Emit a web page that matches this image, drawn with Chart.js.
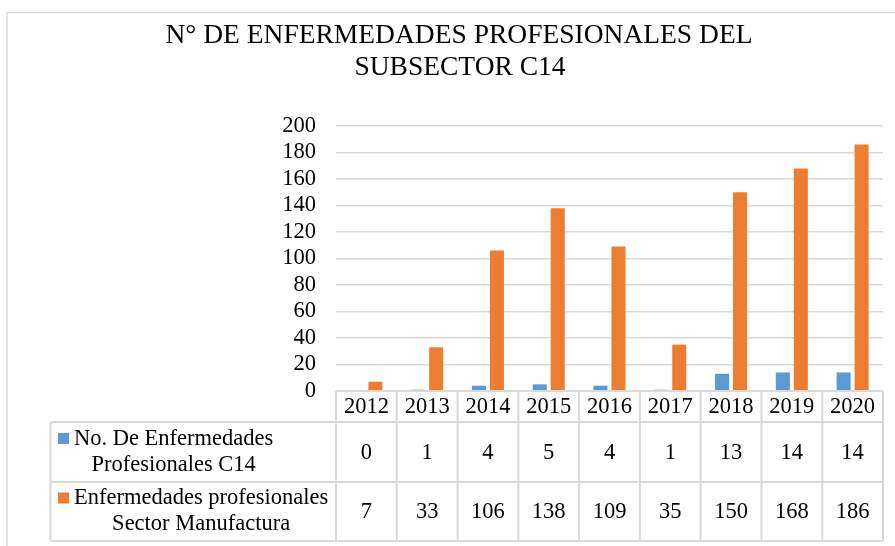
<!DOCTYPE html>
<html>
<head>
<meta charset="utf-8">
<script src="https://cdn.jsdelivr.net/npm/chart.js@4"></script>
<style>
  html, body { margin: 0; padding: 0; background: #fff; }
  #wrap { width: 895px; height: 546px; position: relative; }
</style>
</head>
<body>
<div id="wrap"><canvas id="c" width="895" height="546"></canvas></div>
<script>
const categories = ['2012','2013','2014','2015','2016','2017','2018','2019','2020'];
const seriesNames = [
  ['No. De Enfermedades', 'Profesionales C14'],
  ['Enfermedades profesionales', 'Sector Manufactura']
];
const c14Values = [0, 1, 4, 5, 4, 1, 13, 14, 14];
const manufacturaValues = [7, 33, 106, 138, 109, 35, 150, 168, 186];
const titleLines = ['N° DE ENFERMEDADES PROFESIONALES DEL', 'SUBSECTOR C14'];

const BLUE = '#5B9BD5';
const ORANGE = '#ED7D31';
const GRID = '#D9D9D9';
const FONT = "'Liberation Serif', 'Times New Roman', serif";
const TXT = 22.5;

const frameAndTable = {
  id: 'frameAndTable',
  beforeDraw(chart) {
    const ctx = chart.ctx;
    ctx.save();
    ctx.strokeStyle = GRID;
    ctx.lineWidth = 1.5;
    ctx.beginPath();
    ctx.moveTo(7, 546);
    ctx.lineTo(7, 12.5);
    ctx.lineTo(895, 12.5);
    ctx.stroke();
    // title
    ctx.fillStyle = '#000';
    ctx.font = '27.5px ' + FONT;
    ctx.textAlign = 'center';
    ctx.textBaseline = 'middle';
    ctx.fillText(titleLines[0], 459, 36);
    ctx.fillText(titleLines[1], 460, 68);
    ctx.restore();
  },
  afterDraw(chart) {
    const ctx = chart.ctx;
    const area = chart.chartArea;
    const xs = chart.scales.x;
    const n = categories.length;
    const cw = (area.right - area.left) / n;
    const tableLeft = 50.5;
    const yTop = area.bottom;
    const yH = yTop + 31;
    const yR1 = yH + 60;
    const yR2 = yR1 + 59;
    ctx.save();
    ctx.strokeStyle = GRID;
    ctx.lineWidth = 2;
    ctx.beginPath();
    ctx.moveTo(area.left, yTop); ctx.lineTo(area.right, yTop);
    [yH, yR1, yR2].forEach(y => { ctx.moveTo(tableLeft, y); ctx.lineTo(area.right, y); });
    for (let i = 0; i <= n; i++) {
      const x = area.left + i * cw;
      ctx.moveTo(x, yTop); ctx.lineTo(x, yR2);
    }
    ctx.moveTo(tableLeft, yH); ctx.lineTo(tableLeft, yR2);
    ctx.stroke();

    ctx.fillStyle = '#000';
    ctx.font = TXT + 'px ' + FONT;
    ctx.textAlign = 'center';
    ctx.textBaseline = 'middle';
    const rows = [c14Values, manufacturaValues];
    categories.forEach((cat, i) => {
      const x = xs.getPixelForValue(i);
      ctx.fillText(cat, x, (yTop + yH) / 2 + 1);
      ctx.fillText(String(rows[0][i]), x, (yH + yR1) / 2 + 1);
      ctx.fillText(String(rows[1][i]), x, (yR1 + yR2) / 2 + 1);
    });

    // legend labels in table
    const rowBounds = [[yH, yR1], [yR1, yR2]];
    const colors = [BLUE, ORANGE];
    seriesNames.forEach((lines, r) => {
      const [t, b] = rowBounds[r];
      const mid = (t + b) / 2;
      const w = Math.max(...lines.map(l => ctx.measureText(l).width));
      const textLeft = 74;
      const cx = textLeft + w / 2;
      const l1y = mid - 13, l2y = mid + 13;
      ctx.fillStyle = colors[r];
      ctx.fillRect(58, l1y - 6, 11, 11);
      ctx.fillStyle = '#000';
      ctx.fillText(lines[0], cx, l1y);
      ctx.fillText(lines[1], cx, l2y);
    });
    ctx.restore();
  }
};

new Chart(document.getElementById('c'), {
  type: 'bar',
  data: {
    labels: categories,
    datasets: [
      { label: seriesNames[0].join(' '), data: c14Values, backgroundColor: BLUE,
        categoryPercentage: 0.592, barPercentage: 0.78 },
      { label: seriesNames[1].join(' '), data: manufacturaValues, backgroundColor: ORANGE,
        categoryPercentage: 0.592, barPercentage: 0.78 }
    ]
  },
  options: {
    responsive: false,
    animation: false,
    devicePixelRatio: 1,
    layout: { padding: { left: 0, right: 12, top: 126, bottom: 155 } },
    plugins: {
      legend: { display: false },
      tooltip: { enabled: false },
      title: { display: false }
    },
    scales: {
      x: { display: false },
      y: {
        min: 0, max: 200,
        ticks: { stepSize: 20, autoSkip: false, color: '#000', padding: 20, font: { family: FONT, size: TXT } },
        grid: { color: GRID, lineWidth: 1.5, drawTicks: false },
        border: { display: false },
        afterFit(scale) { scale.width = 336; }
      }
    }
  },
  plugins: [frameAndTable]
});
</script>
</body>
</html>
